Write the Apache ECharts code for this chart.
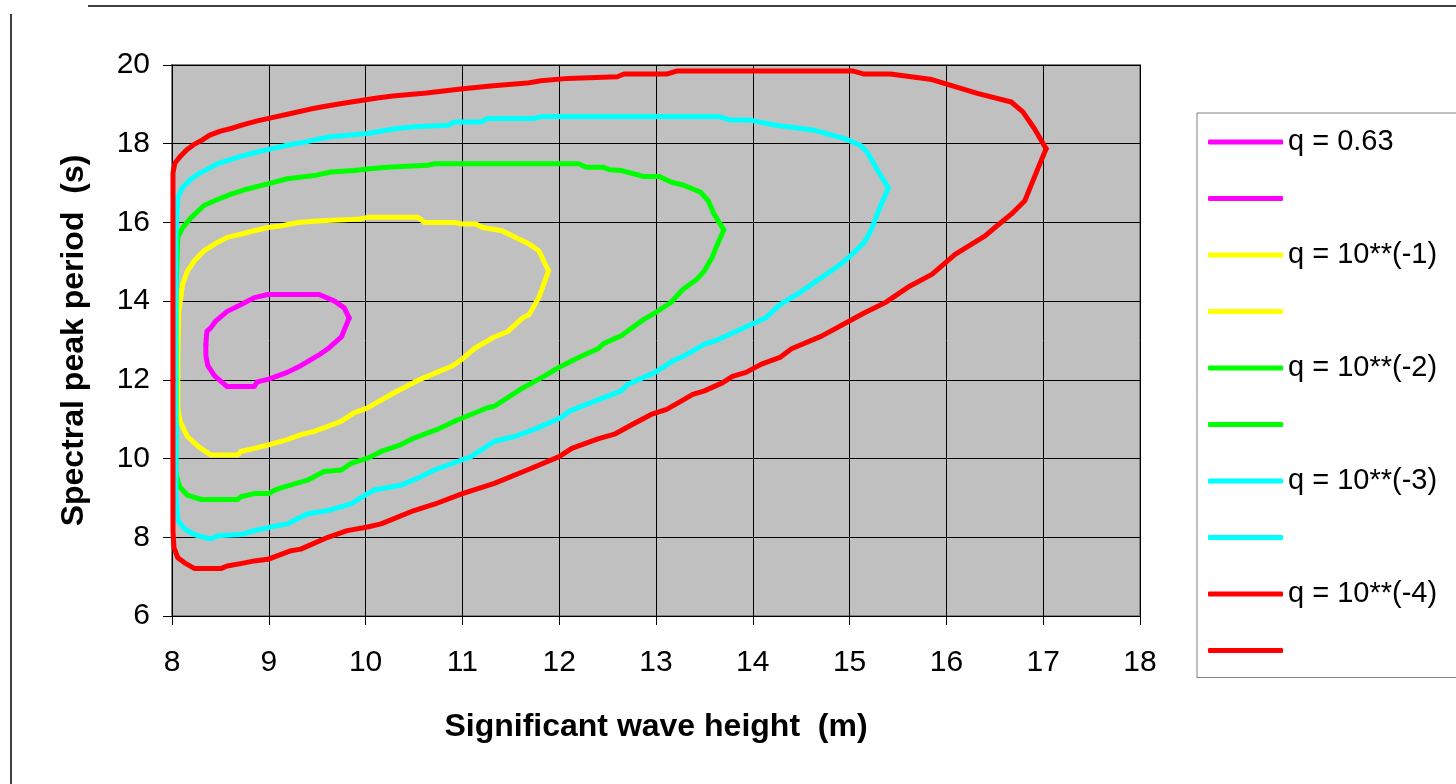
<!DOCTYPE html>
<html>
<head>
<meta charset="utf-8">
<script src="https://cdn.jsdelivr.net/npm/echarts@6/dist/echarts.min.js"></script>
<style>
  html, body { margin: 0; padding: 0; background: #ffffff; }
  #chart { width: 1456px; height: 784px; }
</style>
</head>
<body>
<div id="chart"></div>
<script>
// contour levels and colours
const levelNames = ['q = 0.63', 'q = 10**(-1)', 'q = 10**(-2)', 'q = 10**(-3)', 'q = 10**(-4)'];
const levelColors = ['#ff00ff', '#ffff00', '#00ff00', '#00ffff', '#ff0000'];

const xTicks = [8, 9, 10, 11, 12, 13, 14, 15, 16, 17, 18];
const yTicks = [6, 8, 10, 12, 14, 16, 18, 20];

// [Hs, Tp] upper / lower branches of each contour
const q063Upper = [[8.35,12.9],[8.36,13.23],[8.40,13.32],[8.45,13.49],[8.57,13.74],[8.71,13.91],[8.85,14.09],[8.99,14.17],[9.52,14.17],[9.68,14.00],[9.78,13.83],[9.83,13.57]];
const q063Lower = [[8.35,12.9],[8.35,12.62],[8.37,12.36],[8.44,12.10],[8.57,11.83],[8.85,11.83],[8.88,11.95],[9.00,12.02],[9.19,12.19],[9.33,12.36],[9.51,12.62],[9.61,12.79],[9.75,13.09],[9.83,13.57]];

const q1Upper = [[8.06,12.5],[8.07,13.74],[8.11,14.43],[8.16,14.77],[8.23,15.02],[8.33,15.28],[8.44,15.45],[8.57,15.62],[8.71,15.70],[8.85,15.79],[8.99,15.87],[9.12,15.91],[9.30,16.0],[9.54,16.04],[9.95,16.09],[10.02,16.13],[10.54,16.13],[10.61,16.0],[10.92,16.0],[11.0,15.96],[11.14,15.96],[11.21,15.87],[11.41,15.79],[11.55,15.62],[11.69,15.45],[11.79,15.28],[11.89,14.77]];
const q1Lower = [[8.06,12.5],[8.06,11.25],[8.09,10.91],[8.16,10.56],[8.27,10.31],[8.40,10.09],[8.68,10.09],[8.71,10.18],[8.85,10.26],[9.00,10.35],[9.19,10.48],[9.33,10.61],[9.47,10.69],[9.61,10.82],[9.75,10.95],[9.88,11.16],[10.02,11.29],[10.30,11.68],[10.57,12.02],[10.90,12.36],[11.0,12.53],[11.12,12.79],[11.33,13.09],[11.47,13.23],[11.62,13.57],[11.69,13.66],[11.79,14.09],[11.89,14.77]];

const q2Upper = [[8.04,12.0],[8.04,14.26],[8.06,15.62],[8.11,15.87],[8.20,16.13],[8.33,16.43],[8.44,16.55],[8.61,16.72],[8.78,16.85],[8.99,16.98],[9.19,17.11],[9.47,17.19],[9.64,17.28],[9.88,17.32],[10.02,17.36],[10.22,17.40],[10.64,17.45],[10.71,17.49],[12.20,17.49],[12.28,17.40],[12.46,17.40],[12.52,17.34],[12.64,17.32],[12.87,17.17],[13.03,17.17],[13.16,17.02],[13.28,16.95],[13.46,16.77],[13.54,16.55],[13.60,16.21],[13.70,15.81]];
const q2Lower = [[8.04,12.0],[8.04,10.65],[8.04,9.62],[8.08,9.28],[8.16,9.07],[8.30,8.96],[8.68,8.96],[8.71,9.03],[8.85,9.11],[9.00,9.11],[9.06,9.20],[9.16,9.28],[9.40,9.45],[9.57,9.67],[9.75,9.71],[9.85,9.88],[10.02,10.01],[10.16,10.18],[10.36,10.35],[10.50,10.52],[10.74,10.74],[10.92,10.95],[11.0,11.03],[11.26,11.29],[11.33,11.33],[11.60,11.76],[11.85,12.10],[12.0,12.32],[12.20,12.57],[12.40,12.79],[12.46,12.92],[12.64,13.12],[12.87,13.53],[12.99,13.70],[13.15,13.96],[13.28,14.30],[13.42,14.55],[13.50,14.77],[13.58,15.11],[13.62,15.36],[13.70,15.81]];

const q3Upper = [[8.04,12.0],[8.04,15.70],[8.06,16.64],[8.11,16.89],[8.20,17.11],[8.27,17.23],[8.37,17.36],[8.47,17.49],[8.57,17.57],[8.71,17.68],[8.88,17.79],[9.02,17.87],[9.19,17.96],[9.37,18.04],[9.61,18.17],[9.78,18.21],[10.02,18.26],[10.30,18.38],[10.50,18.43],[10.85,18.47],[10.92,18.55],[11.19,18.55],[11.26,18.64],[11.74,18.64],[11.81,18.69],[13.65,18.69],[13.77,18.60],[13.97,18.60],[14.24,18.47],[14.64,18.34],[14.95,18.13],[15.11,17.96],[15.18,17.79],[15.30,17.28],[15.40,16.88]];
const q3Lower = [[8.04,12.0],[8.04,9.11],[8.06,8.43],[8.13,8.21],[8.23,8.07],[8.33,8.00],[8.40,7.96],[8.47,8.04],[8.71,8.07],[8.85,8.17],[9.02,8.26],[9.19,8.34],[9.40,8.60],[9.61,8.68],[9.85,8.85],[10.02,9.11],[10.09,9.20],[10.36,9.32],[10.57,9.54],[10.71,9.71],[11.0,9.97],[11.09,10.05],[11.33,10.44],[11.54,10.56],[11.78,10.78],[12.01,11.03],[12.11,11.21],[12.64,11.72],[12.71,11.89],[12.99,12.19],[13.18,12.49],[13.30,12.62],[13.50,12.91],[13.62,13.0],[13.79,13.19],[14.13,13.57],[14.28,13.91],[14.48,14.21],[14.71,14.60],[14.91,14.94],[14.99,15.11],[15.15,15.49],[15.22,15.79],[15.30,16.30],[15.40,16.88]];

const q4Upper = [[8.01,12.0],[8.01,17.26],[8.03,17.51],[8.08,17.66],[8.15,17.84],[8.22,17.97],[8.31,18.09],[8.39,18.22],[8.50,18.32],[8.63,18.40],[8.73,18.48],[8.88,18.58],[9.01,18.65],[9.25,18.78],[9.43,18.88],[9.60,18.96],[9.77,19.03],[10.12,19.16],[10.28,19.21],[10.63,19.29],[10.98,19.39],[11.32,19.47],[11.67,19.54],[11.81,19.60],[12.09,19.66],[12.60,19.70],[12.67,19.77],[13.11,19.77],[13.22,19.85],[15.03,19.85],[15.15,19.77],[15.42,19.77],[15.85,19.63],[16.32,19.28],[16.67,19.06],[16.79,18.81],[16.91,18.38],[17.03,17.87]];
const q4Lower = [[8.01,12.0],[8.01,8.17],[8.02,7.74],[8.06,7.48],[8.13,7.35],[8.23,7.21],[8.51,7.21],[8.57,7.27],[8.75,7.35],[8.85,7.40],[8.99,7.44],[9.23,7.66],[9.33,7.70],[9.61,8.00],[9.81,8.17],[10.02,8.26],[10.16,8.34],[10.50,8.68],[10.71,8.84],[11.0,9.11],[11.33,9.37],[11.67,9.71],[12.0,10.05],[12.13,10.26],[12.40,10.50],[12.58,10.63],[12.75,10.86],[12.95,11.12],[13.11,11.25],[13.26,11.46],[13.38,11.63],[13.50,11.72],[13.69,11.93],[13.79,12.09],[13.93,12.19],[14.09,12.40],[14.28,12.57],[14.40,12.79],[14.71,13.11],[15.15,13.70],[15.38,13.98],[15.62,14.38],[15.85,14.68],[16.09,15.19],[16.40,15.66],[16.52,15.91],[16.67,16.21],[16.81,16.55],[16.95,17.40],[17.03,17.87]];

const contours = [
  [q063Upper, q063Lower],
  [q1Upper, q1Lower],
  [q2Upper, q2Lower],
  [q3Upper, q3Lower],
  [q4Upper, q4Lower]
];

const FONT = "'Liberation Sans', Arial, sans-serif";
const LOWER = ' lower';

const series = [];
const legendData = [];
contours.forEach(function (pair, i) {
  ['', LOWER].forEach(function (suffix, j) {
    const name = levelNames[i] + suffix;
    legendData.push({ name: name, icon: 'roundRect' });
    series.push({
      name: name,
      type: 'line',
      data: pair[j],
      showSymbol: false,
      symbol: 'none',
      smooth: false,
      silent: true,
      animation: false,
      z: 2 + i,
      lineStyle: { color: levelColors[i], width: 5, join: 'round', cap: 'round' },
      itemStyle: { color: levelColors[i] }
    });
  });
});

const chart = echarts.init(document.getElementById('chart'), null, { renderer: 'canvas' });

const option = {
  backgroundColor: '#ffffff',
  animation: false,
  textStyle: { fontFamily: FONT },
  grid: {
    left: 172, top: 65, width: 968, height: 551,
    show: true,
    backgroundColor: '#c0c0c0',
    borderColor: '#808080',
    borderWidth: 2
  },
  xAxis: {
    type: 'value',
    min: xTicks[0], max: xTicks[xTicks.length - 1], interval: 1,
    name: 'Significant wave height  (m)',
    nameLocation: 'middle',
    nameGap: 95,
    nameTextStyle: { fontSize: 32, fontWeight: 'bold', color: '#000', fontFamily: FONT },
    axisLine: { show: true, onZero: false, lineStyle: { color: '#000', width: 1 } },
    axisTick: { show: true, inside: false, length: 9, lineStyle: { color: '#000' } },
    axisLabel: { fontSize: 30, color: '#000', margin: 32, fontFamily: FONT },
    splitLine: { show: true, lineStyle: { color: '#000', width: 1 } }
  },
  yAxis: {
    type: 'value',
    min: yTicks[0], max: yTicks[yTicks.length - 1], interval: 2,
    name: 'Spectral peak period  (s)',
    nameLocation: 'middle',
    nameGap: 82,
    nameTextStyle: { fontSize: 32, fontWeight: 'bold', color: '#000', fontFamily: FONT },
    axisLine: { show: true, onZero: false, lineStyle: { color: '#000', width: 1 } },
    axisTick: { show: true, inside: false, length: 9, lineStyle: { color: '#000' } },
    axisLabel: { fontSize: 30, color: '#000', margin: 22, fontFamily: FONT },
    splitLine: { show: true, lineStyle: { color: '#000', width: 1 } }
  },
  legend: {
    orient: 'vertical',
    left: 1197,
    top: 113,
    data: legendData,
    selectedMode: false,
    itemWidth: 75,
    itemHeight: 5,
    itemGap: 26.5,
    padding: [14, 80, 12, 11],
    borderColor: '#808080',
    borderWidth: 1,
    backgroundColor: '#ffffff',
    textStyle: { fontSize: 29, color: '#000', lineHeight: 30, fontFamily: FONT },
    formatter: function (name) {
      return name.indexOf(LOWER) >= 0 ? ' ' : name;
    }
  },
  graphic: [
    { type: 'line', shape: { x1: 88, y1: 6, x2: 1456, y2: 6 }, style: { stroke: '#000', lineWidth: 1.5 }, silent: true },
    { type: 'line', shape: { x1: 11, y1: 14, x2: 11, y2: 784 }, style: { stroke: '#404040', lineWidth: 2 }, silent: true }
  ],
  series: series
};

chart.setOption(option);
</script>
</body>
</html>
